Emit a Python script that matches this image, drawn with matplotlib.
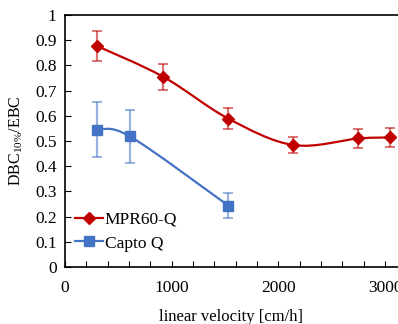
import matplotlib
matplotlib.use("Agg")
import matplotlib.pyplot as plt
from matplotlib.path import Path
from matplotlib.patches import PathPatch
from matplotlib.ticker import MultipleLocator

# ==============================
# DATA
# ==============================
mpr_x = [300, 920, 1530, 2140, 2750, 3050]
mpr_y = [0.877, 0.755, 0.589, 0.484, 0.510, 0.514]
mpr_err = [0.060, 0.052, 0.041, 0.033, 0.036, 0.037]

capto_x = [300, 610, 1530]
capto_y = [0.545, 0.518, 0.244]
capto_err = [0.110, 0.105, 0.048]

y_ticks = [i / 10 for i in range(11)]
y_ticklabels = ["0", "0.1", "0.2", "0.3", "0.4", "0.5", "0.6", "0.7", "0.8", "0.9", "1"]

RED = "#C00000"
BLUE = "#4472C4"

plt.rcParams["font.family"] = ["Liberation Serif", "DejaVu Serif"]
plt.rcParams["mathtext.fontset"] = "custom"
plt.rcParams["mathtext.rm"] = "Liberation Serif"
plt.rcParams["mathtext.it"] = "Liberation Serif:italic"


def smooth_path(xs, ys):
    # Excel-style smoothed line: cubic bezier segments (Catmull-Rom controls)
    n = len(xs)
    verts = [(xs[0], ys[0])]
    codes = [Path.MOVETO]
    for i in range(n - 1):
        x0, y0 = (xs[i - 1], ys[i - 1]) if i > 0 else (xs[i], ys[i])
        x1, y1 = xs[i], ys[i]
        x2, y2 = xs[i + 1], ys[i + 1]
        x3, y3 = (xs[i + 2], ys[i + 2]) if i + 2 < n else (x2, y2)
        c1 = (x1 + (x2 - x0) / 6, y1 + (y2 - y0) / 6)
        c2 = (x2 - (x3 - x1) / 6, y2 - (y3 - y1) / 6)
        verts += [c1, c2, (x2, y2)]
        codes += [Path.CURVE4] * 3
    return Path(verts, codes)


def main():
    fig = plt.figure(figsize=(3.98, 3.24), dpi=100)
    ax = fig.add_axes([0.1633, 0.1759, 0.8367, 0.7778])

    for xs, ys, err, col, mk, ms, lab in [
        (mpr_x, mpr_y, mpr_err, RED, "D", 6.5, "MPR60-Q"),
        (capto_x, capto_y, capto_err, BLUE, "s", 7.5, "Capto Q"),
    ]:
        ax.add_patch(PathPatch(smooth_path(xs, ys), facecolor="none",
                               edgecolor=col, linewidth=1.6, zorder=2))
        ax.errorbar(xs, ys, yerr=err, fmt="none", ecolor=col, alpha=0.55,
                    elinewidth=1.6, capsize=3.5, capthick=1.4, zorder=3)
        ax.plot(xs, ys, linestyle="none", marker=mk, markersize=ms,
                color=col, zorder=4)
        # legend proxy
        ax.plot([], [], color=col, linewidth=1.6, marker=mk,
                markersize=ms, label=lab)

    ax.set_xlim(0, 3121)
    ax.set_ylim(0, 1)
    ax.xaxis.set_major_locator(MultipleLocator(1000))
    ax.xaxis.set_minor_locator(MultipleLocator(200))
    ax.set_yticks(y_ticks)
    ax.set_yticklabels(y_ticklabels)

    ax.tick_params(axis="both", which="both", direction="in", labelsize=12.5,
                   width=0.8)
    ax.tick_params(axis="both", which="major", length=4, pad=6)
    ax.tick_params(axis="x", which="minor", length=4)
    ax.tick_params(axis="y", which="minor", left=False)
    ax.tick_params(axis="x", pad=9)

    for side in ["left", "bottom", "top"]:
        ax.spines[side].set_linewidth(1.2)
    ax.spines["right"].set_visible(False)

    ax.set_xlabel("linear velocity [cm/h]", fontsize=12, labelpad=10)
    ax.set_ylabel(r"DBC$_{10\%}$/EBC", fontsize=11.5, labelpad=7)

    ax.legend(loc="lower left", bbox_to_anchor=(0.0, 0.02), frameon=False,
              fontsize=12.5, handlelength=1.6, handletextpad=0.1,
              borderaxespad=0.2, labelspacing=0.45)

    fig.savefig("out.png", dpi=100)
    plt.close(fig)


if __name__ == "__main__":
    main()
